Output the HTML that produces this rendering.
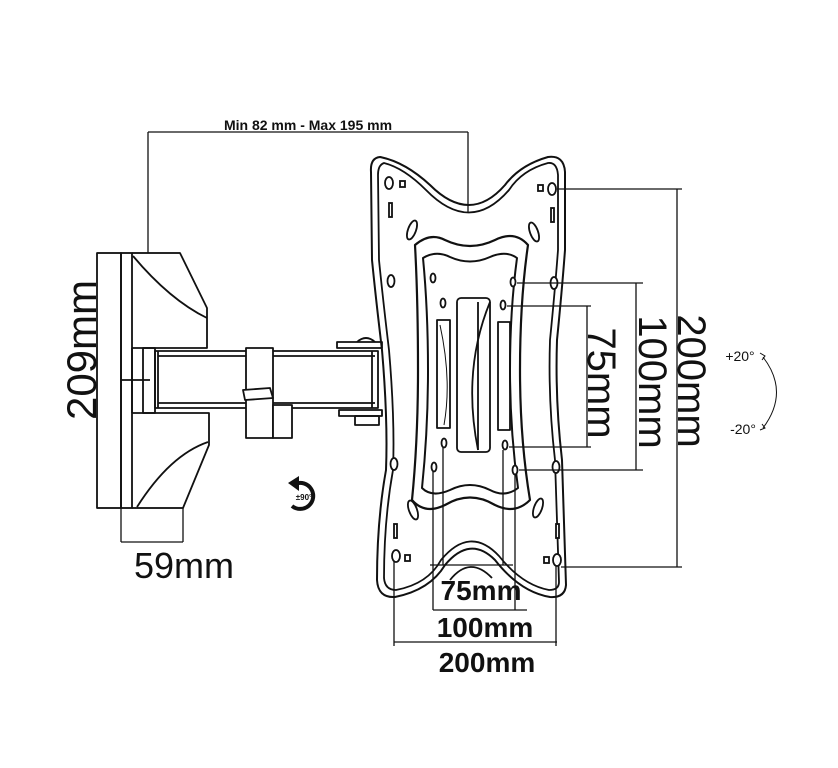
<!DOCTYPE html>
<html><head><meta charset="utf-8"><style>
html,body{margin:0;padding:0;background:#fff;width:838px;height:768px;overflow:hidden}
svg{display:block}
text{font-family:"Liberation Sans",Arial,sans-serif;fill:#111}
</style></head><body>
<svg width="838" height="768" viewBox="0 0 838 768" xmlns="http://www.w3.org/2000/svg">
<g fill="none" stroke="#111" stroke-width="1.3">
<!-- top dimension -->
<line x1="148" y1="132" x2="468" y2="132"/>
<line x1="148" y1="132" x2="148" y2="253"/>
<line x1="468" y1="132" x2="468" y2="213"/>
<!-- 209 dimension ticks -->
<line x1="97" y1="253" x2="180" y2="253"/>
<line x1="97" y1="508" x2="183" y2="508"/>
<!-- 59 dim -->
<line x1="121" y1="508" x2="121" y2="542"/>
<line x1="183" y1="508" x2="183" y2="542"/>
<line x1="121" y1="542" x2="183" y2="542"/>
</g>
<g fill="none" stroke="#111" stroke-width="1.8" stroke-linejoin="round">
<!-- wall plate -->
<rect x="97" y="253" width="24" height="255"/>
<rect x="121" y="253" width="11" height="255"/>
<line x1="121" y1="380" x2="150" y2="380"/>
<!-- upper block -->
<path d="M132 253 L180 253 L207 308 L207 348 L132 348"/>
<path d="M133 256 Q170 300 207 318"/>
<!-- lower block -->
<path d="M132 413 L209 413 L209 445 L183 508 L132 508"/>
<path d="M137 507 Q170 455 208 442"/>
<!-- pivot between -->
<rect x="143" y="348" width="12" height="65"/>
<line x1="132" y1="348" x2="132" y2="413"/>
<!-- arm -->
<rect x="155" y="351" width="223" height="57"/>
<line x1="158" y1="356" x2="375" y2="356"/>
<line x1="158" y1="403" x2="375" y2="403"/>
<line x1="158" y1="351" x2="158" y2="408"/>
<line x1="372" y1="351" x2="372" y2="408"/>
<!-- clip -->
<rect x="246" y="348" width="27" height="90" fill="#fff"/>
<rect x="273" y="405" width="19" height="33" fill="#fff"/>
<path d="M243 390 L270 388 L273 398 L245 400 Z" fill="#fff"/>
<!-- bracket plates -->
<path d="M337 342 L382 342 L382 348 L337 348 Z"/>
<path d="M357 342 Q366 334 375 342"/>
<path d="M339 410 L382 410 L382 416 L339 416 Z"/>
<rect x="355" y="416" width="24" height="9"/>
<!-- plate outer -->
<path d="M380 157 Q370 158 371 172 L372 260 Q376 300 382 350 Q388 420 386 470 Q377 520 377 580 Q378 598 395 597 Q430 590 445 565 Q470 535 495 560 Q520 592 550 597 Q565 598 566 585 L562 460 Q555 400 557 340 Q562 290 565 250 L565 172 Q564 155 548 157 Q520 165 505 185 Q470 225 430 185 Q405 162 380 157 Z" stroke-width="2"/>
<path d="M384 163 Q378 165 378 175 L379 260 Q383 300 389 350 Q395 420 393 470 Q384 520 384 578 Q385 590 396 590 Q428 584 441 560 Q470 525 499 556 Q522 585 549 590 Q559 590 559 582 L555 460 Q548 400 550 340 Q555 290 558 250 L558 175 Q557 162 548 163 Q522 170 509 190 Q470 235 426 190 Q404 168 384 163 Z"/>
<path d="M450 580 Q470 555 492 578"/>
<!-- raised frame -->
<path d="M415 245 Q430 232 445 240 Q470 252 495 240 Q515 230 528 245 Q520 300 520 370 Q520 440 530 500 Q515 515 495 505 Q470 490 445 505 Q425 515 412 500 Q418 440 418 370 Q418 300 415 245 Z" stroke-width="2.2"/>
<path d="M423 258 Q436 250 450 257 Q470 266 490 257 Q506 250 517 258 Q510 310 510 370 Q510 430 518 488 Q505 498 490 490 Q470 480 450 490 Q432 498 422 488 Q428 430 428 370 Q428 310 423 258 Z" stroke-width="2"/>
<!-- center bracket -->
<rect x="457" y="298" width="33" height="154" rx="4"/>
<path d="M490 302 Q462 370 478 450"/>
<line x1="478" y1="302" x2="478" y2="450"/>
<rect x="437" y="320" width="13" height="108"/>
<rect x="498" y="322" width="12" height="108"/>
<path d="M440 325 Q452 380 444 425" stroke-width="1"/>
</g>
<!-- holes -->
<g fill="#fff" stroke="#111" stroke-width="1.8">
<ellipse cx="389" cy="183" rx="4" ry="6"/><ellipse cx="552" cy="189" rx="4" ry="6"/>
<ellipse cx="396" cy="556" rx="4" ry="6"/><ellipse cx="557" cy="560" rx="4" ry="6"/>
<ellipse cx="391" cy="281" rx="3.5" ry="6"/><ellipse cx="554" cy="283" rx="3.5" ry="6"/>
<ellipse cx="394" cy="464" rx="3.5" ry="6"/><ellipse cx="556" cy="467" rx="3.5" ry="6"/>
<ellipse cx="412" cy="230" rx="4" ry="10" transform="rotate(20 412 230)"/>
<ellipse cx="534" cy="232" rx="4" ry="10" transform="rotate(-20 534 232)"/>
<ellipse cx="413" cy="510" rx="4" ry="10" transform="rotate(-20 413 510)"/>
<ellipse cx="538" cy="508" rx="4" ry="10" transform="rotate(20 538 508)"/>
<ellipse cx="433" cy="278" rx="2.5" ry="4.5"/><ellipse cx="513" cy="282" rx="2.5" ry="4.5"/>
<ellipse cx="434" cy="467" rx="2.5" ry="4.5"/><ellipse cx="515" cy="470" rx="2.5" ry="4.5"/>
<ellipse cx="443" cy="303" rx="2.5" ry="4.5"/><ellipse cx="503" cy="305" rx="2.5" ry="4.5"/>
<ellipse cx="444" cy="443" rx="2.5" ry="4.5"/><ellipse cx="505" cy="445" rx="2.5" ry="4.5"/>
<rect x="400" y="181" width="5" height="6"/><rect x="538" y="185" width="5" height="6"/>
<rect x="405" y="555" width="5" height="6"/><rect x="544" y="557" width="5" height="6"/>
<rect x="389" y="203" width="3" height="14"/><rect x="551" y="208" width="3" height="14"/>
<rect x="394" y="524" width="3" height="14"/><rect x="556" y="524" width="3" height="14"/>
</g>
<!-- plate dimension lines -->
<g fill="none" stroke="#111" stroke-width="1.3">
<line x1="557" y1="189" x2="682" y2="189"/><line x1="677" y1="189" x2="677" y2="567"/><line x1="561" y1="567" x2="682" y2="567"/>
<line x1="517" y1="283" x2="643" y2="283"/><line x1="636" y1="283" x2="636" y2="470"/><line x1="519" y1="470" x2="643" y2="470"/>
<line x1="507" y1="306" x2="591" y2="306"/><line x1="587" y1="306" x2="587" y2="447"/><line x1="509" y1="447" x2="591" y2="447"/>
<line x1="443" y1="448" x2="443" y2="565"/><line x1="503" y1="450" x2="503" y2="565"/><line x1="430" y1="565" x2="513" y2="565"/>
<line x1="433" y1="472" x2="433" y2="610"/><line x1="515" y1="475" x2="515" y2="610"/><line x1="433" y1="610" x2="527" y2="610"/>
<line x1="394" y1="562" x2="394" y2="646"/><line x1="556" y1="566" x2="556" y2="646"/><line x1="394" y1="642" x2="557" y2="642"/>
<path d="M763 357 Q790 392 763 428" stroke-width="1"/>
<path d="M760 353 L765 356 L762 360 M760 430 L765 428 L762 424" stroke-width="1"/>
</g>
<!-- rotation icon -->
<path d="M295 484 A13 13 0 1 1 292 506" fill="none" stroke="#111" stroke-width="4"/>
<path d="M288 483 L299 476 L299 491 Z" fill="#111"/>
<text x="304" y="500" font-size="8" font-weight="bold" text-anchor="middle">±90°</text>
<!-- labels -->
<text x="308" y="130" font-size="14" font-weight="bold" text-anchor="middle">Min 82 mm - Max 195 mm</text>
<text x="0" y="0" font-size="42" text-anchor="middle" transform="translate(96 350) rotate(-90)">209mm</text>
<text x="184" y="578" font-size="36" text-anchor="middle">59mm</text>
<text x="481" y="600" font-size="28" font-weight="bold" text-anchor="middle">75mm</text>
<text x="485" y="637" font-size="28" font-weight="bold" text-anchor="middle">100mm</text>
<text x="487" y="672" font-size="28" font-weight="bold" text-anchor="middle">200mm</text>
<text x="0" y="0" font-size="40" text-anchor="middle" transform="translate(678 381) rotate(90)">200mm</text>
<text x="0" y="0" font-size="40" text-anchor="middle" transform="translate(639 382) rotate(90)">100mm</text>
<text x="0" y="0" font-size="40" text-anchor="middle" transform="translate(588 383) rotate(90)">75mm</text>
<text x="740" y="361" font-size="14" text-anchor="middle">+20°</text>
<text x="743" y="434" font-size="14" text-anchor="middle">-20°</text>
</svg>
</body></html>
